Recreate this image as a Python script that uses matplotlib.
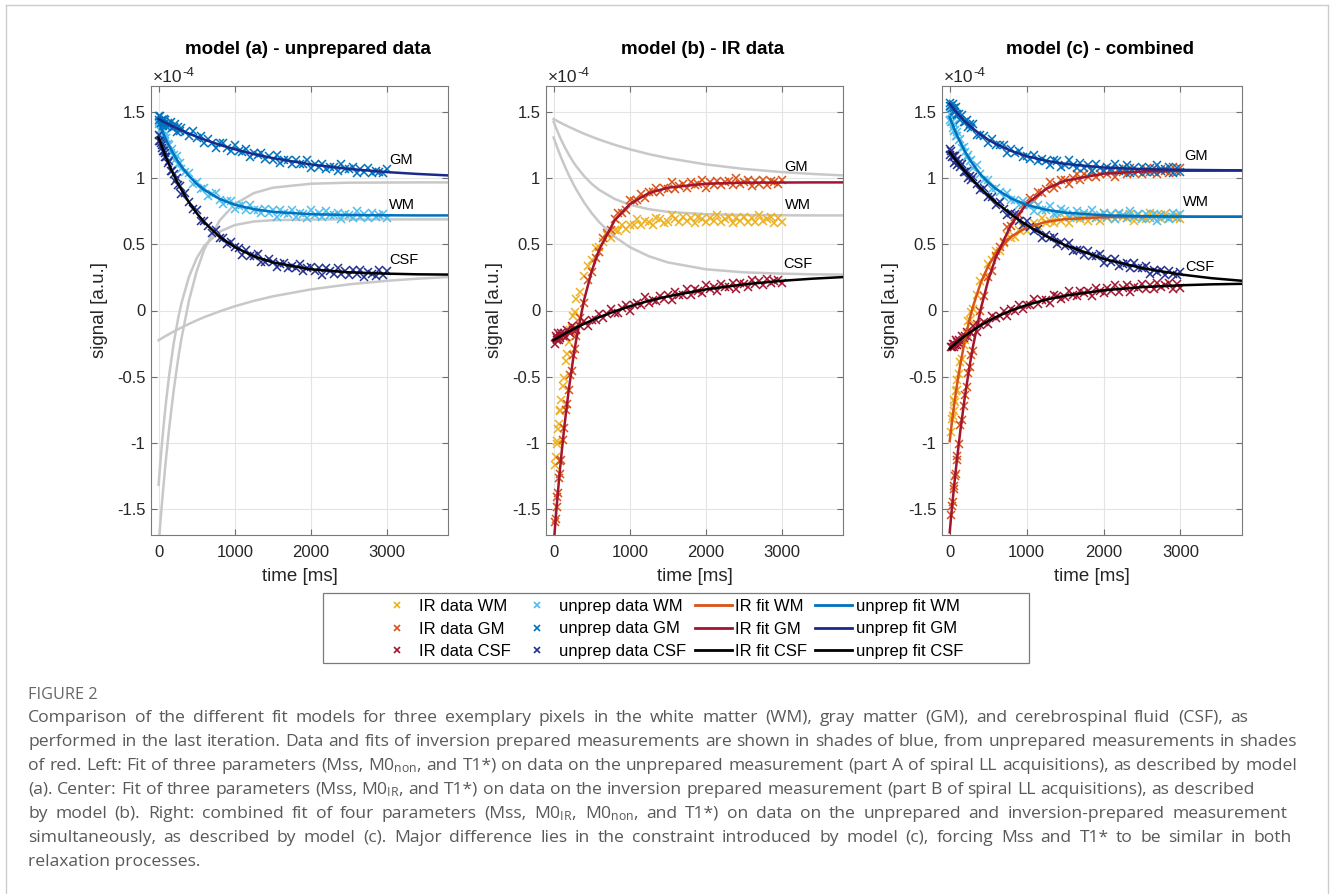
"""Three-panel comparison of fit models (unprepared / IR / combined) with caption"""

import matplotlib

matplotlib.use("Agg")
import matplotlib.pyplot as plt
import numpy as np
from matplotlib.lines import Line2D
from matplotlib.patches import Rectangle

plt.rcParams["font.family"] = ["Liberation Sans", "DejaVu Sans"]
plt.rcParams["mathtext.fontset"] = "custom"
plt.rcParams["mathtext.rm"] = "Open Sans"
plt.rcParams["mathtext.it"] = "Open Sans:italic"
plt.rcParams["mathtext.bf"] = "Open Sans:bold"

nan = np.nan

# --- data (signal in units of 1e-4) ---------------------------------------
t_data = [0, 10, 20, 30, 40, 50, 60, 70, 80, 90, 100,
          120, 140, 160, 180, 200, 220, 240, 260, 280, 300,
          350, 400, 450, 500, 550, 600, 650, 700, 750, 800, 850, 900, 950, 1000,
          1050, 1100, 1150, 1200, 1250, 1300, 1350, 1400, 1450, 1500,
          1550, 1600, 1650, 1700, 1750, 1800, 1850, 1900, 1950, 2000,
          2050, 2100, 2150, 2200, 2250, 2300, 2350, 2400, 2450, 2500,
          2550, 2600, 2650, 2700, 2750, 2800, 2850, 2900, 2950, 3000]

# panel (a): unprepared data
unprepA_WM = [1.41, 1.43, 1.37, 1.41, 1.37, 1.35, 1.37, 1.31, 1.33, 1.28, 1.31,
              1.26, 1.25, 1.19, 1.22, 1.18, 1.14, 1.17, 1.11, 1.12, 1.07,
              1.05, 1.04, 0.96, 0.97, 0.92, 0.93, 0.87, 0.88, 0.89, 0.84, 0.81, 0.83, 0.83, 0.77,
              0.79, 0.80, 0.76, 0.80, 0.76, 0.76, 0.74, 0.77, 0.74, 0.76,
              0.71, 0.76, 0.74, 0.73, 0.76, 0.71, 0.74, 0.73, 0.70, 0.76,
              0.72, 0.74, 0.71, 0.75, 0.72, 0.72, 0.74, 0.69, 0.73, 0.72,
              0.70, 0.75, 0.71, 0.73, 0.70, 0.74, 0.71, 0.72, 0.73, 0.70]
unprepA_GM = [1.47, 1.44, 1.47, 1.42, 1.44, 1.44, 1.40, 1.45, 1.42, 1.44, 1.40,
              1.42, 1.40, 1.43, 1.38, 1.39, 1.41, 1.35, 1.39, 1.36, 1.38,
              1.35, 1.32, 1.36, 1.31, 1.32, 1.27, 1.30, 1.27, 1.23, 1.27, 1.27, 1.23, 1.21, 1.25,
              1.21, 1.20, 1.22, 1.16, 1.19, 1.18, 1.19, 1.15, 1.17, 1.14,
              1.18, 1.12, 1.14, 1.14, 1.11, 1.14, 1.11, 1.11, 1.14, 1.08,
              1.11, 1.09, 1.11, 1.07, 1.09, 1.09, 1.06, 1.11, 1.07, 1.07,
              1.09, 1.04, 1.07, 1.05, 1.08, 1.04, 1.06, 1.05, 1.04, 1.07]
unprepA_CSF = [1.33, 1.28, 1.28, 1.27, 1.23, 1.25, 1.21, 1.21, 1.16, 1.19, 1.16,
               1.12, 1.13, 1.06, 1.06, 1.03, 0.98, 1.00, 0.95, 0.94, 0.88,
               0.89, 0.82, 0.77, 0.76, 0.68, 0.68, 0.64, 0.59, 0.61, 0.55, 0.55, 0.50, 0.52, 0.48,
               0.47, 0.42, 0.46, 0.41, 0.41, 0.43, 0.37, 0.37, 0.39, 0.37,
               0.33, 0.35, 0.36, 0.32, 0.34, 0.32, 0.35, 0.30, 0.32, 0.33,
               0.30, 0.32, 0.27, 0.32, 0.30, 0.28, 0.32, 0.28, 0.30, 0.27,
               0.31, 0.28, 0.31, 0.25, 0.29, 0.28, 0.26, 0.31, 0.27, 0.30]

# panel (b): inversion recovery data
irB_WM = [nan, nan, -1.17, -1.11, -1.01, -0.99, -0.90, -0.86, -0.76, -0.75, -0.68,
          -0.57, -0.51, -0.38, -0.33, -0.24, -0.15, -0.13, -0.04, -0.01, 0.09,
          0.14, 0.26, 0.34, 0.38, 0.47, 0.48, 0.52, 0.57, 0.55, 0.61, 0.60, 0.65, 0.62, 0.65,
          0.65, 0.69, 0.65, 0.68, 0.67, 0.65, 0.70, 0.69, 0.66, 0.67,
          0.72, 0.69, 0.67, 0.71, 0.68, 0.70, 0.66, 0.71, 0.69, 0.67,
          0.70, 0.68, 0.72, 0.67, 0.69, 0.71, 0.66, 0.70, 0.68, 0.71,
          0.67, 0.70, 0.67, 0.72, 0.68, 0.69, 0.71, 0.66, 0.70, 0.67]
irB_GM = [nan, nan, -1.60, -1.58, -1.49, -1.41, -1.38, -1.27, -1.24, -1.14, -1.13,
          -0.98, -0.89, -0.75, -0.71, -0.60, -0.49, -0.46, -0.34, -0.29, -0.19,
          -0.06, 0.06, 0.23, 0.29, 0.40, 0.44, 0.55, 0.59, 0.61, 0.69, 0.74, 0.74, 0.76, 0.84,
          0.83, 0.84, 0.88, 0.85, 0.90, 0.90, 0.93, 0.90, 0.93, 0.92,
          0.97, 0.92, 0.94, 0.96, 0.93, 0.97, 0.95, 0.96, 0.99, 0.93,
          0.97, 0.95, 0.98, 0.95, 0.97, 0.98, 0.95, 1.00, 0.96, 0.97,
          0.99, 0.94, 0.98, 0.96, 0.99, 0.95, 0.98, 0.97, 0.96, 0.99]
irB_CSF = [nan, nan, -0.25, -0.19, -0.21, -0.22, -0.17, -0.22, -0.19, -0.21, -0.17,
           -0.19, -0.17, -0.20, -0.15, -0.16, -0.17, -0.12, -0.15, -0.13, -0.15,
           -0.12, -0.08, -0.12, -0.07, -0.07, -0.03, -0.06, -0.03, 0.01, -0.02, -0.02, 0.02, 0.04, 0.00,
           0.04, 0.06, 0.04, 0.10, 0.06, 0.08, 0.07, 0.11, 0.09, 0.12,
           0.08, 0.14, 0.12, 0.12, 0.16, 0.12, 0.16, 0.15, 0.13, 0.19,
           0.16, 0.18, 0.15, 0.20, 0.18, 0.18, 0.21, 0.16, 0.21, 0.20,
           0.18, 0.23, 0.20, 0.22, 0.19, 0.24, 0.21, 0.22, 0.23, 0.21]

# panel (c): both measurements
unprepC_WM = [1.49, 1.44, 1.43, 1.43, 1.38, 1.41, 1.36, 1.37, 1.32, 1.35, 1.32,
              1.29, 1.30, 1.23, 1.24, 1.20, 1.16, 1.18, 1.13, 1.14, 1.08,
              1.10, 1.03, 0.99, 0.99, 0.92, 0.93, 0.90, 0.86, 0.89, 0.84, 0.84, 0.80, 0.83, 0.80,
              0.80, 0.75, 0.80, 0.76, 0.76, 0.79, 0.73, 0.74, 0.77, 0.75,
              0.71, 0.73, 0.75, 0.71, 0.74, 0.72, 0.76, 0.70, 0.72, 0.74,
              0.71, 0.73, 0.69, 0.74, 0.72, 0.70, 0.75, 0.71, 0.73, 0.69,
              0.73, 0.70, 0.73, 0.68, 0.72, 0.71, 0.69, 0.74, 0.70, 0.73]
unprepC_GM = [1.55, 1.57, 1.55, 1.53, 1.56, 1.51, 1.53, 1.50, 1.54, 1.48, 1.49,
              1.49, 1.44, 1.48, 1.43, 1.43, 1.44, 1.39, 1.41, 1.38, 1.41,
              1.33, 1.33, 1.32, 1.27, 1.30, 1.25, 1.25, 1.25, 1.19, 1.22, 1.19, 1.21, 1.16, 1.17,
              1.15, 1.18, 1.13, 1.15, 1.13, 1.10, 1.14, 1.13, 1.09, 1.10,
              1.14, 1.10, 1.08, 1.12, 1.08, 1.10, 1.06, 1.11, 1.08, 1.06,
              1.09, 1.07, 1.11, 1.06, 1.08, 1.10, 1.04, 1.08, 1.06, 1.09,
              1.05, 1.08, 1.05, 1.10, 1.06, 1.07, 1.09, 1.04, 1.08, 1.05]
unprepC_CSF = [1.22, 1.18, 1.21, 1.16, 1.17, 1.17, 1.12, 1.17, 1.13, 1.15, 1.10,
               1.12, 1.09, 1.11, 1.05, 1.05, 1.06, 1.00, 1.02, 0.99, 1.01,
               0.96, 0.91, 0.93, 0.86, 0.86, 0.80, 0.82, 0.77, 0.72, 0.74, 0.73, 0.68, 0.65, 0.68,
               0.63, 0.60, 0.62, 0.55, 0.57, 0.55, 0.56, 0.50, 0.52, 0.49,
               0.51, 0.45, 0.46, 0.46, 0.42, 0.45, 0.41, 0.41, 0.43, 0.36,
               0.39, 0.37, 0.39, 0.34, 0.35, 0.36, 0.32, 0.36, 0.32, 0.32,
               0.34, 0.28, 0.31, 0.29, 0.31, 0.27, 0.30, 0.28, 0.27, 0.29]
irC_WM = [nan, nan, -0.92, -0.82, -0.80, -0.76, -0.68, -0.69, -0.61, -0.60, -0.53,
          -0.48, -0.39, -0.37, -0.26, -0.22, -0.18, -0.08, -0.07, -0.01, 0.01,
          0.12, 0.22, 0.25, 0.35, 0.38, 0.45, 0.45, 0.51, 0.57, 0.55, 0.56, 0.61, 0.63, 0.60,
          0.64, 0.66, 0.64, 0.70, 0.66, 0.68, 0.66, 0.71, 0.68, 0.70,
          0.66, 0.72, 0.70, 0.69, 0.72, 0.68, 0.71, 0.70, 0.68, 0.74,
          0.70, 0.72, 0.69, 0.73, 0.71, 0.70, 0.73, 0.68, 0.72, 0.71,
          0.69, 0.74, 0.70, 0.72, 0.69, 0.73, 0.70, 0.71, 0.72, 0.69]
irC_GM = [nan, nan, -1.55, -1.48, -1.45, -1.35, -1.33, -1.25, -1.24, -1.13, -1.10,
          -1.01, -0.87, -0.83, -0.72, -0.64, -0.58, -0.47, -0.43, -0.34, -0.31,
          -0.10, 0.00, 0.11, 0.25, 0.30, 0.41, 0.48, 0.52, 0.63, 0.64, 0.71, 0.72, 0.80, 0.81,
          0.85, 0.83, 0.90, 0.89, 0.92, 0.97, 0.93, 0.95, 0.99, 0.99,
          0.96, 1.00, 1.03, 0.99, 1.03, 1.01, 1.06, 1.01, 1.03, 1.06,
          1.03, 1.05, 1.01, 1.07, 1.05, 1.03, 1.08, 1.04, 1.06, 1.03,
          1.07, 1.05, 1.08, 1.03, 1.07, 1.06, 1.04, 1.09, 1.05, 1.08]
irC_CSF = [nan, nan, -0.28, -0.28, -0.25, -0.28, -0.25, -0.26, -0.22, -0.26, -0.24,
           -0.22, -0.25, -0.19, -0.21, -0.19, -0.16, -0.20, -0.16, -0.17, -0.12,
           -0.16, -0.11, -0.09, -0.10, -0.04, -0.06, -0.04, 0.00, -0.04, 0.01, 0.00, 0.04, 0.01, 0.04,
           0.04, 0.09, 0.05, 0.08, 0.08, 0.06, 0.12, 0.11, 0.09, 0.10,
           0.15, 0.12, 0.11, 0.15, 0.13, 0.15, 0.11, 0.17, 0.15, 0.13,
           0.17, 0.15, 0.19, 0.14, 0.17, 0.19, 0.14, 0.18, 0.17, 0.20,
           0.16, 0.19, 0.16, 0.21, 0.18, 0.19, 0.21, 0.16, 0.20, 0.17]

# fitted curves
t_fit = [0, 20, 40, 60, 80, 100, 140, 200, 260, 300, 400, 500, 600,
         800, 1000, 1250, 1500, 2000, 2500, 3000, 3400, 3800]
fitA_WM = [1.430, 1.400, 1.371, 1.343, 1.317, 1.291, 1.244, 1.180, 1.123, 1.090, 1.018,
           0.959, 0.913, 0.845, 0.801, 0.767, 0.747, 0.729, 0.723, 0.721, 0.720, 0.720]
fitA_GM = [1.450, 1.444, 1.437, 1.431, 1.425, 1.419, 1.408, 1.391, 1.375, 1.364, 1.339,
           1.316, 1.294, 1.255, 1.221, 1.184, 1.154, 1.106, 1.072, 1.048, 1.034, 1.023]
fitA_CSF = [1.310, 1.277, 1.246, 1.215, 1.185, 1.156, 1.101, 1.025, 0.956, 0.914, 0.818,
            0.737, 0.668, 0.559, 0.480, 0.411, 0.364, 0.312, 0.289, 0.279, 0.274, 0.272]
fitB_WM = [-1.320, -1.171, -1.034, -0.906, -0.788, -0.679, -0.483, -0.241, -0.049, 0.056, 0.258,
           0.396, 0.490, 0.597, 0.647, 0.674, 0.684, 0.689, 0.690, 0.690, 0.690, 0.690]
fitB_GM = [-1.780, -1.629, -1.487, -1.352, -1.225, -1.105, -0.884, -0.596, -0.352, -0.211, 0.079,
           0.298, 0.463, 0.681, 0.806, 0.889, 0.930, 0.960, 0.968, 0.969, 0.970, 0.970]
fitB_CSF = [-0.225, -0.218, -0.211, -0.204, -0.197, -0.191, -0.178, -0.159, -0.140, -0.129, -0.101,
            -0.075, -0.050, -0.007, 0.032, 0.073, 0.107, 0.160, 0.198, 0.225, 0.241, 0.253]
fitC_unprep_WM = [1.465, 1.433, 1.403, 1.374, 1.347, 1.320, 1.271, 1.203, 1.144, 1.109, 1.032,
                  0.971, 0.921, 0.848, 0.800, 0.763, 0.741, 0.721, 0.714, 0.711, 0.710, 0.710]
fitC_unprep_GM = [1.566, 1.551, 1.536, 1.521, 1.507, 1.494, 1.468, 1.432, 1.399, 1.379, 1.333,
                  1.294, 1.261, 1.208, 1.169, 1.134, 1.110, 1.083, 1.071, 1.065, 1.063, 1.061]
fitC_unprep_CSF = [1.200, 1.184, 1.169, 1.154, 1.139, 1.124, 1.095, 1.053, 1.013, 0.988, 0.927,
                   0.871, 0.819, 0.727, 0.647, 0.564, 0.495, 0.391, 0.321, 0.273, 0.245, 0.225]
fitC_ir_WM = [-0.990, -0.890, -0.796, -0.707, -0.624, -0.545, -0.402, -0.217, -0.063, 0.025, 0.204,
              0.336, 0.434, 0.560, 0.628, 0.671, 0.692, 0.706, 0.709, 0.710, 0.710, 0.710]
fitC_ir_GM = [-1.680, -1.553, -1.431, -1.315, -1.205, -1.100, -0.903, -0.642, -0.416, -0.281, 0.003,
              0.227, 0.403, 0.652, 0.807, 0.920, 0.983, 1.036, 1.053, 1.058, 1.059, 1.060]
fitC_ir_CSF = [-0.290, -0.279, -0.269, -0.258, -0.248, -0.238, -0.219, -0.192, -0.167, -0.151, -0.114,
               -0.080, -0.050, 0.000, 0.041, 0.082, 0.112, 0.153, 0.177, 0.191, 0.198, 0.202]

x_ticks = [0, 1000, 2000, 3000]
x_ticklabels = ["0", "1000", "2000", "3000"]
y_ticks = [-1.5, -1, -0.5, 0, 0.5, 1, 1.5]
y_ticklabels = ["-1.5", "-1", "-0.5", "0", "0.5", "1", "1.5"]

titles = ["model (a) - unprepared data", "model (b) - IR data", "model (c) - combined"]
tissue_labels = ["GM", "WM", "CSF"]

legend_labels = ["IR data WM", "IR data GM", "IR data CSF",
                 "unprep data WM", "unprep data GM", "unprep data CSF",
                 "IR fit WM", "IR fit GM", "IR fit CSF",
                 "unprep fit WM", "unprep fit GM", "unprep fit CSF"]

caption_title = "FIGURE 2"
caption_lines = [
    "Comparison of the different fit models for three exemplary pixels in the white matter (WM), gray matter (GM), and cerebrospinal fluid (CSF), as",
    "performed in the last iteration. Data and fits of inversion prepared measurements are shown in shades of blue, from unprepared measurements in shades",
    r"of red. Left: Fit of three parameters (Mss, M0$_{\mathrm{non}}$, and T1*) on data on the unprepared measurement (part A of spiral LL acquisitions), as described by model",
    r"(a). Center: Fit of three parameters (Mss, M0$_{\mathrm{IR}}$, and T1*) on data on the inversion prepared measurement (part B of spiral LL acquisitions), as described",
    r"by model (b). Right: combined fit of four parameters (Mss, M0$_{\mathrm{IR}}$, M0$_{\mathrm{non}}$, and T1*) on data on the unprepared and inversion-prepared measurement",
    "simultaneously, as described by model (c). Major difference lies in the constraint introduced by model (c), forcing Mss and T1* to be similar in both",
    "relaxation processes.",
]
caption_ends = [1248, 1297, 1297, 1254, 1287, 1292, None]

# --- styling -----------------------------------------------------------------
c_ir_wm = "#EDB120"
c_ir_gm = "#D95319"
c_ir_csf = "#A2142F"
c_un_wm = "#4DBEEE"
c_un_gm = "#0072BD"
c_un_csf = "#22308F"
c_fit_un_gm = "#1A2A8A"
c_gray = "#C8C8C8"

W, H = 1330, 894
fig = plt.figure(figsize=(W / 100, H / 100), dpi=100)


def fx(px):
    return px / W


def fy(py):
    return 1 - py / H


ax_top, ax_bottom = 86, 535
panel_left = [151, 546, 942]
panel_width = [297, 297, 300]
axes = [fig.add_axes([fx(l), fy(ax_bottom), w / W, (ax_bottom - ax_top) / H])
        for l, w in zip(panel_left, panel_width)]

data_kw = dict(ls="none", marker="x", ms=5.5, mew=1.1, zorder=3)
fit_kw = dict(lw=1.8, zorder=4)
gray_kw = dict(color=c_gray, lw=1.8, zorder=1)

# (a)
ax = axes[0]
for y in (fitB_WM, fitB_GM, fitB_CSF):
    ax.plot(t_fit, y, **gray_kw)
ax.plot(t_data, unprepA_WM, color=c_un_wm, **data_kw)
ax.plot(t_data, unprepA_GM, color=c_un_gm, **data_kw)
ax.plot(t_data, unprepA_CSF, color=c_un_csf, **data_kw)
ax.plot(t_fit, fitA_WM, color=c_un_gm, **fit_kw)
ax.plot(t_fit, fitA_GM, color=c_fit_un_gm, **fit_kw)
ax.plot(t_fit, fitA_CSF, color="black", **fit_kw)

# (b)  (the WM fit is hidden below the yellow data in the original)
ax = axes[1]
for y in (fitA_WM, fitA_GM, fitA_CSF):
    ax.plot(t_fit, y, **gray_kw)
ax.plot(t_data, irB_WM, color=c_ir_wm, **data_kw)
ax.plot(t_data, irB_GM, color=c_ir_gm, **data_kw)
ax.plot(t_data, irB_CSF, color=c_ir_csf, **data_kw)
ax.plot(t_fit, fitB_GM, color=c_ir_csf, **fit_kw)
ax.plot(t_fit, fitB_CSF, color="black", **fit_kw)

# (c)
ax = axes[2]
ax.plot(t_data, irC_WM, color=c_ir_wm, **data_kw)
ax.plot(t_data, irC_GM, color=c_ir_gm, **data_kw)
ax.plot(t_data, irC_CSF, color=c_ir_csf, **data_kw)
ax.plot(t_data, unprepC_WM, color=c_un_wm, **data_kw)
ax.plot(t_data, unprepC_GM, color=c_un_gm, **data_kw)
ax.plot(t_data, unprepC_CSF, color=c_un_csf, **data_kw)
ax.plot(t_fit, fitC_ir_WM, color=c_ir_gm, **fit_kw)
ax.plot(t_fit, fitC_ir_GM, color=c_ir_csf, **fit_kw)
ax.plot(t_fit, fitC_ir_CSF, color="black", **fit_kw)
ax.plot(t_fit, fitC_unprep_WM, color=c_un_gm, **fit_kw)
ax.plot(t_fit, fitC_unprep_GM, color=c_fit_un_gm, **fit_kw)
ax.plot(t_fit, fitC_unprep_CSF, color="black", **fit_kw)

# tissue labels (x, y in data units per panel)
label_pos = [
    [(3030, 1.14), (3030, 0.80), (3030, 0.38)],
    [(3035, 1.09), (3035, 0.80), (3010, 0.35)],
    [(3055, 1.17), (3030, 0.82), (3065, 0.33)],
]

for i, ax in enumerate(axes):
    ax.set_xlim(-100, 3800)
    ax.set_ylim(-1.7, 1.7)
    ax.set_xticks(x_ticks)
    ax.set_xticklabels(x_ticklabels)
    ax.set_yticks(y_ticks)
    ax.set_yticklabels(y_ticklabels)
    ax.grid(True, color="#e4e4e4", lw=0.8)
    ax.set_axisbelow(True)
    ax.tick_params(direction="in", top=True, right=True, length=4, width=0.8,
                   color="#707070", labelsize=12, labelcolor="#262626")
    ax.tick_params(axis="x", pad=7)
    ax.tick_params(axis="y", pad=4)
    for s in ax.spines.values():
        s.set_color("#7a7a7a")
        s.set_linewidth(0.8)
    ax.set_xlabel("time [ms]", fontsize=13.5, color="#262626")
    ax.xaxis.set_label_coords(0.5, -0.093)
    ax.xaxis.label.set_va("center")
    ax.set_ylabel("signal [a.u.]", fontsize=13.5, color="#262626")
    ax.yaxis.set_label_coords(-0.172, 0.5)
    ax.yaxis.label.set_va("center")

    ax.text(0.5 + 8 / panel_width[i], 1.0824, titles[i], transform=ax.transAxes,
            ha="center", va="center", fontsize=13.5, fontweight="bold")
    exp10 = ax.text(0.006, 1.0194, "\u00d710", transform=ax.transAxes,
                    ha="left", va="center", fontsize=12.5, color="#262626")
    ax.annotate("-4", xy=(1.0, 0.8), xycoords=exp10, ha="left", va="center",
                fontsize=9.5, color="#262626")

    for lab, (lx, ly) in zip(tissue_labels, label_pos[i]):
        ax.text(lx, ly, lab, fontsize=10.5, ha="left", va="center", zorder=6)

# legend (frame drawn separately)
handles = [
    Line2D([], [], ls="none", marker="x", ms=5, mew=1.2, color=c_ir_wm),
    Line2D([], [], ls="none", marker="x", ms=5, mew=1.2, color=c_ir_gm),
    Line2D([], [], ls="none", marker="x", ms=5, mew=1.2, color=c_ir_csf),
    Line2D([], [], ls="none", marker="x", ms=5, mew=1.2, color=c_un_wm),
    Line2D([], [], ls="none", marker="x", ms=5, mew=1.2, color=c_un_gm),
    Line2D([], [], ls="none", marker="x", ms=5, mew=1.2, color=c_un_csf),
    Line2D([], [], lw=2, color=c_ir_gm),
    Line2D([], [], lw=2, color=c_ir_csf),
    Line2D([], [], lw=2, color="black"),
    Line2D([], [], lw=2, color=c_un_gm),
    Line2D([], [], lw=2, color=c_fit_un_gm),
    Line2D([], [], lw=2, color="black"),
]
fig.legend(handles, legend_labels, ncol=4, loc="upper left",
           bbox_to_anchor=(fx(378.5), fy(599)), frameon=False, fontsize=12,
           handlelength=2.22, handletextpad=0.2, columnspacing=0.5,
           labelspacing=0.45, borderpad=0, borderaxespad=0)
fig.add_artist(Rectangle((fx(323), fy(663)), (1029 - 323) / W, (663 - 593) / H,
                         transform=fig.transFigure, fill=False,
                         edgecolor="#7a7a7a", lw=0.9))

# page frame
frame_kw = dict(transform=fig.transFigure, color="#cccccc", lw=1)
fig.add_artist(Line2D([fx(6), fx(6)], [fy(5), 0], **frame_kw))
fig.add_artist(Line2D([fx(1328), fx(1328)], [fy(5), 0], **frame_kw))
fig.add_artist(Line2D([fx(6), fx(1328)], [fy(5), fy(5)], **frame_kw))

# caption: pick the size so the tightest line fits, then spread words
cap_color = "#595959"
cap_x0 = 28
renderer = fig.canvas.get_renderer()
ratios = []
for line, end in zip(caption_lines, caption_ends):
    if end is None:
        continue
    probe = fig.text(0, 0, line, fontsize=11, family="Open Sans")
    ratios.append((end - cap_x0) / probe.get_window_extent(renderer).width)
    probe.remove()
cap_size = 11 * min(ratios) * 0.995

fig.text(fx(cap_x0), fy(699), caption_title, fontsize=cap_size * 0.93,
         color="#666666", family="Open Sans", va="baseline")
for i, line in enumerate(caption_lines):
    y = fy(722 + i * 24)
    end = caption_ends[i]
    if end is None:
        fig.text(fx(cap_x0), y, line, fontsize=cap_size, color=cap_color,
                 family="Open Sans", va="baseline")
        continue
    words = line.split(" ")
    objs = [fig.text(0, y, w, fontsize=cap_size, color=cap_color,
                     family="Open Sans", va="baseline") for w in words]
    widths = [o.get_window_extent(renderer).width for o in objs]
    gap = max((end - cap_x0 - sum(widths)) / (len(words) - 1), 2.5)
    x = cap_x0
    for o, w in zip(objs, widths):
        o.set_x(fx(x))
        x += w + gap

fig.savefig("out.png", dpi=100, facecolor="white")
